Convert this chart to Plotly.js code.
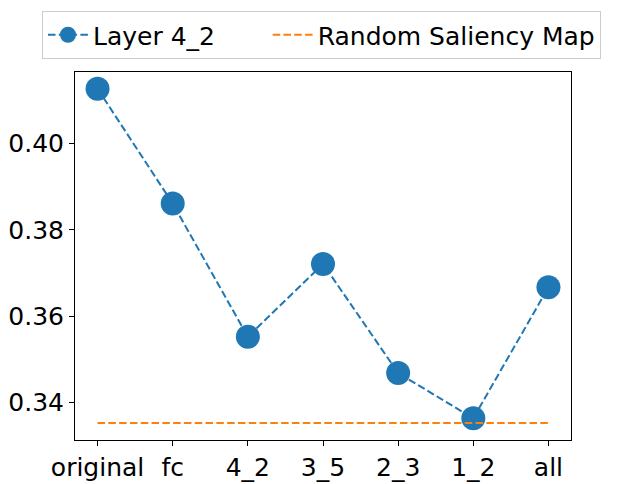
<!DOCTYPE html>
<html>
<head>
<meta charset="utf-8">
<script src="https://cdn.plot.ly/plotly-3.0.1.min.js"></script>
<style>
  html, body { margin: 0; padding: 0; background: #fff; }
  #plot { width: 638px; height: 484px; }
</style>
</head>
<body>
<div id="plot"></div>
<script>
// Values
var layers = ["original", "fc", "4_2", "3_5", "2_3", "1_2", "all"];
var layerScores = [0.4127, 0.3861, 0.3552, 0.3721, 0.3468, 0.3363, 0.3667];
var randomScore = 0.3352;

var trace1 = {
  x: layers,
  y: layerScores,
  mode: "lines+markers",
  type: "scatter",
  name: "Layer 4_2\u00a0\u00a0\u00a0\u00a0\u00a0\u00a0",
  line: { color: "#1f77b4", width: 2, dash: "7.5px,3.3px" },
  marker: { color: "#1f77b4", size: 24 }
};

var trace2 = {
  x: layers,
  y: layers.map(function () { return randomScore; }),
  mode: "lines",
  type: "scatter",
  name: "Random Saliency Map",
  line: { color: "#ff7f0e", width: 2, dash: "7.5px,3.3px" }
};

var data = [trace1, trace2];

var layout = {
  width: 638,
  height: 484,
  margin: { l: 75, r: 67, t: 71, b: 44 },
  paper_bgcolor: "#fff",
  plot_bgcolor: "#fff",
  font: { family: "DejaVu Sans", size: 25, color: "#000" },
  showlegend: true,
  legend: {
    orientation: "h",
    x: (42 - 75) / 496,
    xanchor: "left",
    y: 1 + 12 / 369,
    yanchor: "bottom",
    itemwidth: 40,
    bordercolor: "#cccccc",
    borderwidth: 1,
    font: { size: 25 }
  },
  xaxis: {
    type: "category",
    range: [-0.3, 6.3],
    showgrid: false,
    zeroline: false,
    showline: true,
    mirror: true,
    linecolor: "#000",
    linewidth: 1,
    ticks: "outside",
    ticklen: 5,
    tickcolor: "#000"
  },
  yaxis: {
    range: [0.33128, 0.41658],
    tickvals: [0.34, 0.36, 0.38, 0.40],
    ticktext: ["0.34", "0.36", "0.38", "0.40"],
    showgrid: false,
    zeroline: false,
    showline: true,
    mirror: true,
    linecolor: "#000",
    linewidth: 1,
    ticks: "outside",
    ticklen: 5,
    tickcolor: "#000"
  }
};

Plotly.newPlot("plot", data, layout, { displayModeBar: false });
</script>
</body>
</html>
